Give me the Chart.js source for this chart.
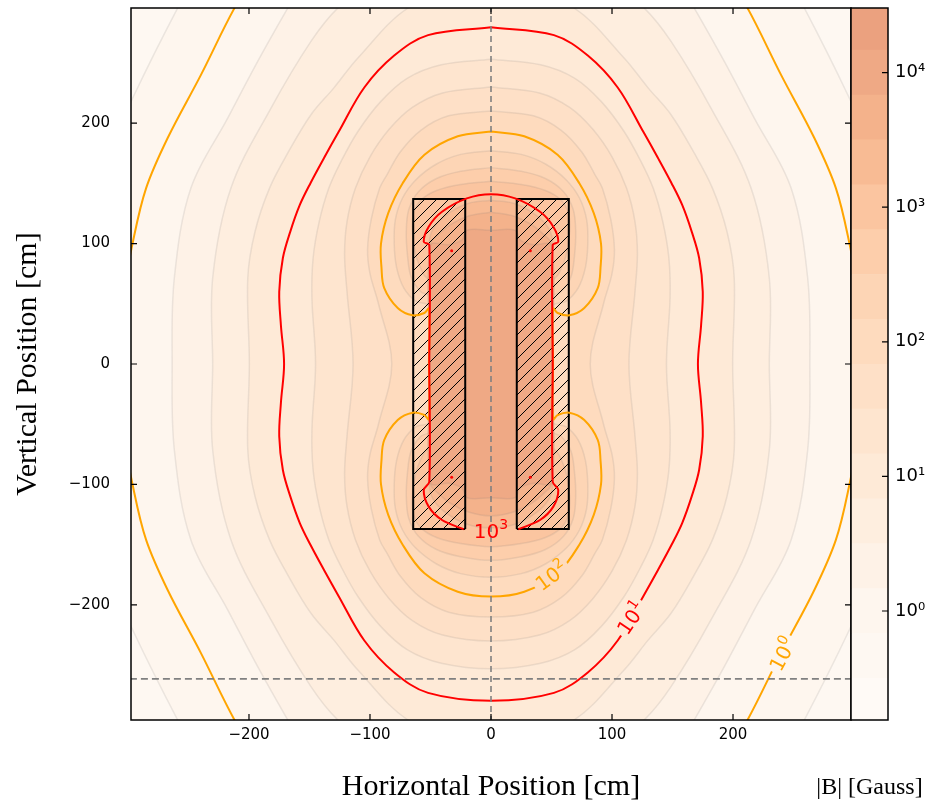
<!DOCTYPE html>
<html>
<head>
<meta charset="utf-8">
<title>|B| map</title>
<script src="https://cdn.jsdelivr.net/npm/chart.js@4.4.1/dist/chart.umd.min.js"></script>
<style>
  html, body { margin: 0; padding: 0; background: #ffffff; }
  #wrap { position: relative; width: 937px; height: 805px; overflow: hidden; }
  #fieldChart { position: absolute; left: 0; top: 0; }
  #cbarChart { position: absolute; left: 800px; top: 0; }
</style>
</head>
<body>
<div id="wrap">
  <canvas id="fieldChart" width="937" height="805"></canvas>
  <canvas id="cbarChart" width="137" height="805"></canvas>
</div>
<script>
// axis ranges and ticks (cm)
const xRange = [-297.5, 297.5];
const yRange = [-295.5, 295.5];
const posTicks = [-200, -100, 0, 100, 200];

// colour bands: log10|B| edges and fill colours, low to high
const cbarEdges = [-0.81, -0.5, -0.167, 0.167, 0.5, 0.833, 1.167, 1.5, 1.833, 2.167, 2.5, 2.833, 3.167, 3.5, 3.833, 4.167, 4.48];
const bandColors = ['#fffaf6', '#fef8f2', '#fef6ee', '#fef2e7', '#feeedf', '#feead7', '#fee5cf', '#fee0c7',
                    '#fedbbe', '#fdd5b5', '#fdceab', '#fbc5a0', '#f8bb94', '#f4b28b', '#efa985', '#eba17f'];
const cbarTickExp = [0, 1, 2, 3, 4];

// filled-contour boundaries (grey lines), upper-right quadrant, [x, y] in cm
const grayLevels = [-0.167, 0.167, 0.5, 0.833, 1.167, 1.5, 1.833, 2.167, 2.5, 2.833, 3.167, 3.5, 3.833];
const qM017 = [[0, 420], [150, 400], [228, 352], [259, 295.4], [294.8, 223.5], [318, 170], [332, 100], [337, 0]];
const q017 = [[0, 362], [100, 352], [143, 338], [168, 295.4], [192.8, 251.2], [217.6, 204.1], [248, 146], [261.7, 71.4], [263.5, 0]];
const q050 = [[0, 330], [80, 318], [110, 306], [126.7, 295.4], [148.8, 267.8], [181.8, 212.4], [214.9, 146], [230, 71.4], [230, 0]];
const q083 = [[0, 301], [40, 299.5], [68.8, 295.4], [110, 254], [130, 229], [148.8, 206.9], [168, 175], [183, 146], [195, 110], [201, 71.4], [199.7, 0]];
const q117 = [[0, 253], [41, 248.4], [69, 237.3], [91, 218], [110, 193], [124, 168], [134, 146], [142, 118], [147, 88], [148, 55], [145, 0]];
const q150 = [[0, 230], [40, 225], [65, 213], [84, 195], [100, 172], [112, 146], [119, 118], [121, 91], [119, 60], [114, 0]];
const q183 = [[0, 210], [35, 206], [58, 194], [75, 176], [86, 157], [92, 146], [99, 120], [102, 95], [100, 75], [93, 50], [82, 0]];
const q217 = [[0, 177], [25, 174], [45, 166], [62, 153], [73, 138], [79, 120], [80, 100], [78, 80], [72, 63], [62, 52], [51, 48], [51, 0]];
const q250 = [[0, 163], [25, 160], [45, 154], [60, 143], [68, 128], [70, 110], [69, 90], [66, 72], [58, 60], [51, 56], [51, 0]];
const q283 = [[0, 151.6], [25, 149], [45, 144], [58, 136], [64, 125], [65, 110], [62, 90], [56, 75], [51, 68], [51, 0]];
const q317 = [[0, 136], [20, 133], [38, 123], [48, 112], [51, 100], [51, 0]];
const q350 = [[0, 126], [18, 123], [33, 116], [44, 107], [50, 99.5], [50.5, 0]];
const q383 = [[0, 111], [20, 111], [24, 103], [35, 99], [50, 98.5], [50.5, 0]];
const grayShapes = [qM017, q017, q050, q083, q117, q150, q183, q217, q250, q283, q317, q350, q383];

// labelled decade contours
const q0 = [[0, 400], [140, 375], [185, 340], [212, 295.4], [239.7, 240], [267.2, 187.6], [285, 146], [296, 101], [304, 55], [306, 0]];
const q1 = [[0, 279.5], [52, 273], [80, 256], [104.7, 229.5], [126, 192.5], [138, 171], [149, 150.5], [158, 132], [166, 109.5], [172, 88], [175, 60], [173.6, 32], [171, 0]];
const q2 = [[0, 193], [27.5, 189], [55, 173.7], [73, 150], [85, 125], [90.9, 100], [90.5, 80], [88.2, 63], [77.1, 46.5], [64.7, 40.4], [55.1, 42.3], [51.3, 46], [51.3, 0]];
const q3 = [[0, 141], [20, 137.5], [40.5, 126.4], [51.5, 114], [55.6, 101.5], [51, 98.8], [51, 0]];
const q3Tail = [[51, -97.7], [55.6, -104.6], [51.5, -118.4], [40.5, -129.5], [22.6, -137.2]];
const spots3 = [[32.5, 94], [32.5, -94], [-32.5, 94], [-32.5, -94]];

// coil cross sections and guide lines
const coilX = [21.3, 64.3];
const coilY = [-137, 137];
const guideX = 0;
const guideY = -261.4;

// inline contour labels
const clabelExp = [0, 1, 2, 3];
const clabelAt = [[241, -241], [116, -211], [50, -176], [0, -139]];
const clabelAngle = [-62, -56, -36, 0];

const ORANGE = '#ffa500';
const RED = '#ff0000';
const supDigits = ['\u2070', '\u00b9', '\u00b2', '\u00b3', '\u2074'];

// build a closed loop from a quadrant by mirroring it about both axes
function mirrorLoop(q) {
  const rev = q.slice().reverse();
  const pts = [];
  q.forEach(p => pts.push({x: p[0], y: p[1]}));
  rev.forEach((p, i) => { if (i || p[1] !== 0) pts.push({x: p[0], y: -p[1]}); });
  q.forEach((p, i) => { if (i || p[0] !== 0) pts.push({x: -p[0], y: -p[1]}); });
  rev.forEach((p, i) => {
    if ((i || p[1] !== 0) && i < rev.length - 1) pts.push({x: -p[0], y: p[1]});
  });
  pts.push({x: pts[0].x, y: pts[0].y});
  return pts;
}

function path3() {
  const right = q3.concat(q3Tail).map(p => ({x: p[0], y: p[1]}));
  const left = right.slice().reverse().map(p => ({x: -p.x, y: p.y}));
  return left.concat(right.slice(1));
}

function bandOf(v) {
  for (let i = 0; i < cbarEdges.length - 1; i++) {
    if (v > cbarEdges[i] && v < cbarEdges[i + 1]) return bandColors[i];
  }
  return bandColors[0];
}

function hatchPattern() {
  const s = 12;
  const c = document.createElement('canvas');
  c.width = s; c.height = s;
  const g = c.getContext('2d');
  g.strokeStyle = '#000';
  g.lineWidth = 1;
  g.beginPath();
  g.moveTo(0, s); g.lineTo(s, 0);
  g.moveTo(-s / 2, s / 2); g.lineTo(s / 2, -s / 2);
  g.moveTo(s / 2, s * 1.5); g.lineTo(s * 1.5, s / 2);
  g.stroke();
  return g.createPattern(c, 'repeat');
}

const datasets = [];

// filled bands, outermost first (higher order is drawn underneath)
grayLevels.forEach((lv, i) => {
  datasets.push({
    data: mirrorLoop(grayShapes[i]),
    showLine: true,
    fill: 'shape',
    backgroundColor: bandColors[cbarEdges.indexOf(lv)],
    borderColor: 'rgba(120,120,120,0.14)',
    borderWidth: 1.5,
    tension: 0.35,
    pointRadius: 0,
    order: 100 - i
  });
});

// coils
const hatch = hatchPattern();
[1, -1].forEach(side => {
  const x0 = side * coilX[0], x1 = side * coilX[1];
  datasets.push({
    data: [{x: x0, y: coilY[0]}, {x: x1, y: coilY[0]}, {x: x1, y: coilY[1]}, {x: x0, y: coilY[1]}, {x: x0, y: coilY[0]}],
    showLine: true,
    fill: 'shape',
    backgroundColor: hatch,
    borderColor: '#000',
    borderWidth: 2,
    borderJoinStyle: 'miter',
    tension: 0,
    pointRadius: 0,
    order: 40
  });
});

// decade contours
[[q0, ORANGE], [q1, RED], [q2, ORANGE]].forEach(([q, col]) => {
  datasets.push({
    data: mirrorLoop(q),
    showLine: true,
    fill: false,
    borderColor: col,
    borderWidth: 2,
    tension: 0.35,
    pointRadius: 0,
    order: 20
  });
});
datasets.push({
  data: path3(),
  showLine: true,
  fill: false,
  borderColor: RED,
  borderWidth: 2,
  tension: 0.3,
  pointRadius: 0,
  order: 19
});
datasets.push({
  data: spots3.map(p => ({x: p[0], y: p[1]})),
  showLine: false,
  pointRadius: 1.5,
  pointBackgroundColor: RED,
  pointBorderWidth: 0,
  order: 18
});

// dashed guides
datasets.push({
  data: [{x: guideX, y: yRange[0] - 10}, {x: guideX, y: yRange[1] + 10}],
  showLine: true, fill: false, borderColor: '#808080', borderWidth: 1.6,
  borderDash: [6, 4], pointRadius: 0, tension: 0, order: 5
});
datasets.push({
  data: [{x: xRange[0] - 10, y: guideY}, {x: xRange[1] + 10, y: guideY}],
  showLine: true, fill: false, borderColor: '#808080', borderWidth: 1.6,
  borderDash: [7, 4], pointRadius: 0, tension: 0, order: 5
});

function drawDecadeLabel(ctx, px, py, angleDeg, exp, color, cover) {
  ctx.save();
  ctx.translate(px, py);
  ctx.rotate(angleDeg * Math.PI / 180);
  const big = '20px "DejaVu Sans"';
  const small = '14px "DejaVu Sans"';
  ctx.font = big;
  const w1 = ctx.measureText('10').width;
  ctx.font = small;
  const w2 = ctx.measureText(String(exp)).width;
  const w = w1 + w2;
  if (cover) {
    ctx.fillStyle = cover;
    ctx.fillRect(-w / 2 - 3, -6, w + 6, 12);
  }
  ctx.fillStyle = color;
  ctx.textAlign = 'left';
  ctx.textBaseline = 'alphabetic';
  ctx.font = big;
  ctx.fillText('10', -w / 2, 7);
  ctx.font = small;
  ctx.fillText(String(exp), -w / 2 + w1, -2);
  ctx.restore();
}

const fieldFrame = {
  id: 'fieldFrame',
  beforeDatasetsDraw(chart) {
    const {ctx, chartArea: a} = chart;
    ctx.save();
    ctx.fillStyle = bandColors[1];
    ctx.fillRect(a.left, a.top, a.width, a.height);
    ctx.restore();
  },
  afterDatasetsDraw(chart) {
    const {ctx, chartArea: a, scales: {x, y}} = chart;
    clabelExp.forEach((e, i) => {
      const col = e % 2 === 0 ? ORANGE : RED;
      const cover = e < 3 ? bandOf(e) : null;
      drawDecadeLabel(ctx, x.getPixelForValue(clabelAt[i][0]), y.getPixelForValue(clabelAt[i][1]),
                      clabelAngle[i], e, col, cover);
    });
    ctx.save();
    ctx.strokeStyle = '#000';
    ctx.lineWidth = 1.5;
    ctx.strokeRect(a.left, a.top, a.width, a.height);
    ctx.lineWidth = 1.2;
    ctx.beginPath();
    posTicks.forEach(v => {
      const px = x.getPixelForValue(v);
      const py = y.getPixelForValue(v);
      ctx.moveTo(px, a.bottom); ctx.lineTo(px, a.bottom - 6);
      ctx.moveTo(px, a.top); ctx.lineTo(px, a.top + 6);
      ctx.moveTo(a.left, py); ctx.lineTo(a.left + 6, py);
      ctx.moveTo(a.right, py); ctx.lineTo(a.right - 6, py);
    });
    ctx.stroke();
    ctx.restore();
  }
};

const tickFont = {family: 'DejaVu Sans', size: 15};
const titleFont = {family: 'Liberation Serif', size: 30};
const fmtPos = v => (v < 0 ? '\u2212' + Math.abs(v) : String(v));
const noPad = s => { s.paddingTop = 0; s.paddingBottom = 0; s.paddingLeft = 0; s.paddingRight = 0; };

new Chart(document.getElementById('fieldChart'), {
  type: 'scatter',
  data: {datasets: datasets},
  options: {
    responsive: false,
    animation: false,
    layout: {padding: {top: 8, right: 86, left: 0, bottom: 0}},
    plugins: {legend: {display: false}, tooltip: {enabled: false}},
    elements: {line: {capBezierPoints: false}},
    scales: {
      x: {
        type: 'linear', min: xRange[0], max: xRange[1],
        afterFit: s => { s.height = 85; noPad(s); },
        afterBuildTicks: s => { s.ticks = posTicks.map(v => ({value: v})); },
        grid: {display: false, drawTicks: false},
        border: {display: false},
        ticks: {font: tickFont, color: '#000', padding: 6, autoSkip: false, maxRotation: 0, callback: fmtPos},
        title: {display: true, text: 'Horizontal Position [cm]', font: titleFont, color: '#000', padding: {top: 0, bottom: 0}}
      },
      y: {
        type: 'linear', min: yRange[0], max: yRange[1],
        afterFit: s => { s.width = 131; noPad(s); },
        afterBuildTicks: s => { s.ticks = posTicks.map(v => ({value: v})); },
        grid: {display: false, drawTicks: false},
        border: {display: false},
        ticks: {font: tickFont, color: '#000', padding: 21, autoSkip: false, callback: fmtPos},
        title: {display: true, text: 'Vertical Position [cm]', font: titleFont, color: '#000', padding: {top: 10, bottom: 0}}
      }
    }
  },
  plugins: [fieldFrame]
});

// colour bar: one floating bar per band on a log axis
const cbarSets = bandColors.map((col, i) => ({
  data: [[Math.pow(10, cbarEdges[i]), Math.pow(10, cbarEdges[i + 1])]],
  backgroundColor: col,
  borderWidth: 0,
  barPercentage: 1,
  categoryPercentage: 1,
  grouped: false
}));

const cbarFrame = {
  id: 'cbarFrame',
  afterDatasetsDraw(chart) {
    const {ctx, chartArea: a, scales: {y}} = chart;
    ctx.save();
    ctx.strokeStyle = '#000';
    ctx.lineWidth = 1.5;
    ctx.strokeRect(a.left, a.top, a.width, a.height);
    ctx.lineWidth = 1.2;
    ctx.beginPath();
    cbarTickExp.forEach(e => {
      const py = y.getPixelForValue(Math.pow(10, e));
      ctx.moveTo(a.right, py); ctx.lineTo(a.right - 6, py);
    });
    ctx.stroke();
    ctx.fillStyle = '#000';
    ctx.font = '24px "Liberation Serif"';
    ctx.textAlign = 'center';
    ctx.textBaseline = 'middle';
    ctx.fillText('|B| [Gauss]', (a.left + a.right) / 2, 788);
    ctx.restore();
  }
};

new Chart(document.getElementById('cbarChart'), {
  type: 'bar',
  data: {labels: [''], datasets: cbarSets},
  options: {
    responsive: false,
    animation: false,
    layout: {padding: {left: 51, top: 8, right: 0, bottom: 85}},
    plugins: {legend: {display: false}, tooltip: {enabled: false}},
    scales: {
      x: {display: false},
      y: {
        type: 'logarithmic', position: 'right',
        min: Math.pow(10, cbarEdges[0]), max: Math.pow(10, cbarEdges[cbarEdges.length - 1]),
        afterFit: s => { s.width = 49; noPad(s); },
        afterBuildTicks: s => { s.ticks = cbarTickExp.map(e => ({value: Math.pow(10, e)})); },
        grid: {display: false, drawTicks: false},
        border: {display: false},
        ticks: {font: {family: 'DejaVu Sans', size: 18}, color: '#000', padding: 7,
                callback: v => '10' + supDigits[Math.round(Math.log10(v))]}
      }
    }
  },
  plugins: [cbarFrame]
});
</script>
</body>
</html>
